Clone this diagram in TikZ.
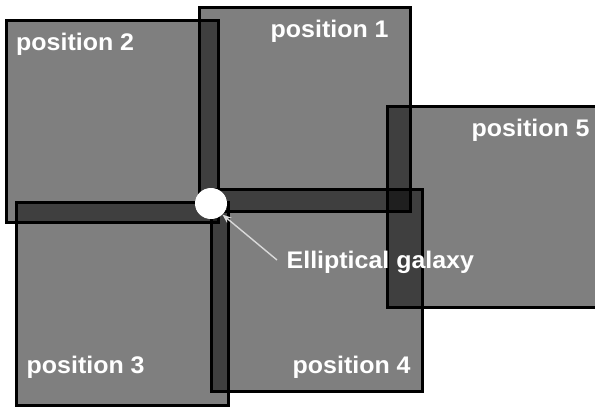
\documentclass[tikz,border=0pt]{standalone}
\usepackage{fontspec}
\setmainfont{Liberation Sans}
\newfontfamily\labelfont{Liberation Sans}[FakeStretch=1.04]
\usetikzlibrary{arrows.meta,shapes.geometric}
\tikzset{
  field/.style={draw=black, line width=3pt, fill=black, fill opacity=0.5},
  fieldlabel/.style={text=white, font=\labelfont\bfseries\fontsize{24}{26}\selectfont, inner sep=0pt, anchor=base west},
  galaxy/.style={ellipse, fill=white, minimum width=32pt, minimum height=31pt, inner sep=0pt},
  pointer/.style={draw=black!15, line width=1.4pt, -{Stealth[length=9pt,width=7pt]}}
}
\begin{document}
\begin{tikzpicture}[x=1pt,y=-1pt]
  \useasboundingbox (0,0) rectangle (595,410);
  \begin{scope}
    \clip (0,0) rectangle (595,410);
    % the five pointing fields
    \draw[field] (6.5,20) rectangle (218.5,222);
    \draw[field] (199.5,7.5) rectangle (410,211);
    \draw[field] (16.5,202) rectangle (228.5,405.5);
    \draw[field] (211,189) rectangle (422,391.5);
    \draw[field] (387,106) rectangle (605,307.5);
  \end{scope}
  % field names
  \node[fieldlabel] (p1) at (270.5,37) {position 1};
  \node[fieldlabel] (p2) at (16,50) {position 2};
  \node[fieldlabel] (p3) at (26.5,373) {position 3};
  \node[fieldlabel] (p4) at (292.5,373) {position 4};
  \node[fieldlabel] (p5) at (471.5,136) {position 5};
  % the galaxy at the common corner
  \node[galaxy] (gal) at (211,203.5) {};
  \node[fieldlabel] (lab) at (286.5,268) {Elliptical galaxy};
  \coordinate (tail) at (277,260);
  \draw[pointer] (tail) -- (gal.south east);
\end{tikzpicture}
\end{document}
